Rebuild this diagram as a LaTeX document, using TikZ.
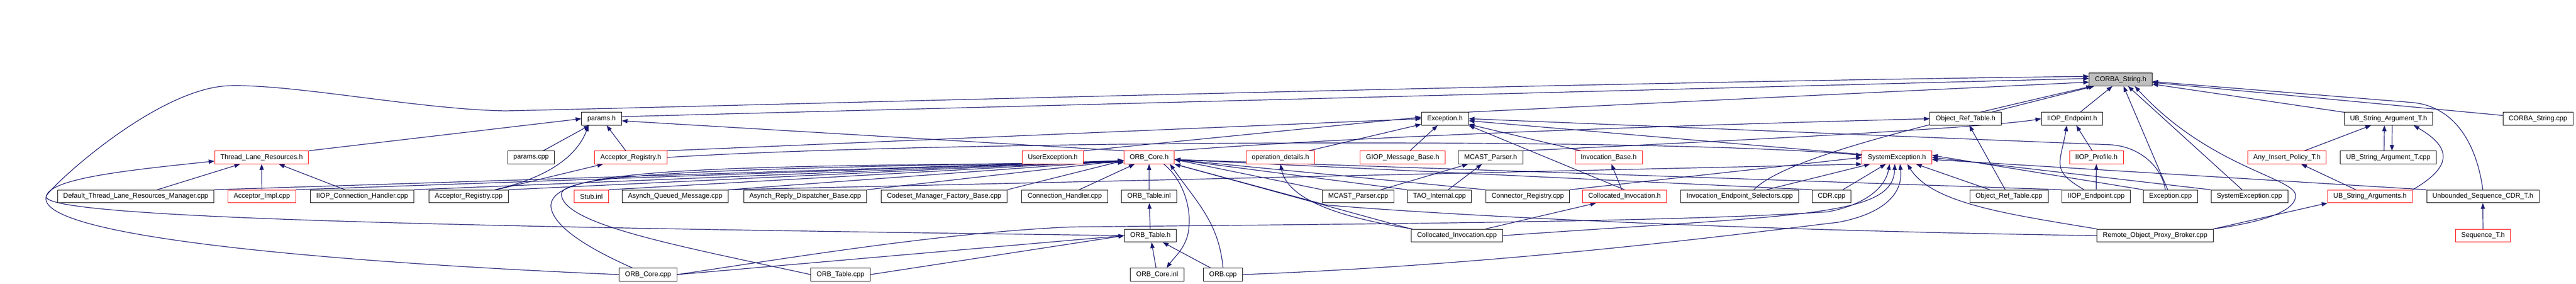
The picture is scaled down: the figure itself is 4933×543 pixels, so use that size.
\documentclass[tikz,border=0pt]{standalone}
\usepackage{fontspec}
\setmainfont{Liberation Sans}
\usepackage{tikz}
\usetikzlibrary{
	arrows.meta,
	backgrounds,
	positioning,
}
\definecolor{edgeblue}{HTML}{191970}
\definecolor{rootgray}{HTML}{BFBFBF}
\tikzset{file node/.style={
	draw,
	rectangle,
	fill=white,
	inner xsep=11pt,
	inner ysep=0pt,
	minimum height=24.5pt,
	line width=1pt,
	font=\fontsize{13}{15}\selectfont,
}}
\tikzset{red node/.style={file node, draw=red}}
\tikzset{root node/.style={file node, fill=rootgray}}
\tikzset{incl/.style={-{Triangle[length=11pt,width=8pt]}, edgeblue, line width=1.2pt}}

\begin{document}
\begin{tikzpicture}[x=1pt,y=-1pt]
\useasboundingbox (0,0) rectangle (4933,543);

\node(cs)[root node] at (4061,152) {CORBA\_String.h};

\node(paramsh)[file node] at (1152,227) {params.h};
\node(exch)[file node] at (2767,227) {Exception.h};
\node(ortblh)[file node] at (3764,227) {Object\_Ref\_Table.h};
\node(iiopeph)[file node] at (3968,227) {IIOP\_Endpoint.h};
\node(ubsath)[file node] at (4574,227) {UB\_String\_Argument\_T.h};
\node(cscpp)[file node] at (4860,227) {CORBA\_String.cpp};

\node(tlrh)[red node] at (501,301) {Thread\_Lane\_Resources.h};
\node(paramscpp)[file node] at (1017,301) {params.cpp};
\node(accregh)[red node] at (1208,301) {Acceptor\_Registry.h};
\node(userexh)[red node] at (2016,301) {UserException.h};
\node(orbcoreh)[red node] at (2200.5,301) {ORB\_Core.h};
\node(opdeth)[red node] at (2452,301) {operation\_details.h};
\node(giopmbh)[red node] at (2686,301) {GIOP\_Message\_Base.h};
\node(mcastph)[file node] at (2854.5,301) {MCAST\_Parser.h};
\node(invbaseh)[red node] at (3080.5,301) {Invocation\_Base.h};
\node(sysexh)[red node] at (3632.5,301) {SystemException.h};
\node(iiopprofh)[red node] at (4014.5,301) {IIOP\_Profile.h};
\node(anyinsh)[red node] at (4379.5,301) {Any\_Insert\_Policy\_T.h};
\node(ubsatcpp)[file node] at (4573.5,301) {UB\_String\_Argument\_T.cpp};

\node(dtlrm)[file node] at (260,375.5) {Default\_Thread\_Lane\_Resources\_Manager.cpp};
\node(accimpl)[red node] at (501.5,375.5) {Acceptor\_Impl.cpp};
\node(iiopch)[file node] at (693.5,375.5) {IIOP\_Connection\_Handler.cpp};
\node(accregcpp)[file node] at (897.5,375.5) {Acceptor\_Registry.cpp};
\node(stubinl)[red node] at (1132.5,375.5) {Stub.inl};
\node(aqm)[file node] at (1293,375.5) {Asynch\_Queued\_Message.cpp};
\node(ardb)[file node] at (1542,375.5) {Asynch\_Reply\_Dispatcher\_Base.cpp};
\node(cmfb)[file node] at (1808,375.5) {Codeset\_Manager\_Factory\_Base.cpp};
\node(chcpp)[file node] at (2039,375.5) {Connection\_Handler.cpp};
\node(orbtblinl)[file node] at (2200.5,375.5) {ORB\_Table.inl};
\node(mcastpcpp)[file node] at (2601,375.5) {MCAST\_Parser.cpp};
\node(taoint)[file node] at (2756.5,375.5) {TAO\_Internal.cpp};
\node(connreg)[file node] at (2925.5,375.5) {Connector\_Registry.cpp};
\node(collinvh)[red node] at (3111,375.5) {Collocated\_Invocation.h};
\node(ies)[file node] at (3331.5,375.5) {Invocation\_Endpoint\_Selectors.cpp};
\node(cdrcpp)[file node] at (3507.5,375.5) {CDR.cpp};
\node(ortblcpp)[file node] at (3847,375.5) {Object\_Ref\_Table.cpp};
\node(iiopepcpp)[file node] at (4014,375.5) {IIOP\_Endpoint.cpp};
\node(exccpp)[file node] at (4156.5,375.5) {Exception.cpp};
\node(sysexcpp)[file node] at (4307.5,375.5) {SystemException.cpp};
\node(ubsas)[red node] at (4538.5,375.5) {UB\_String\_Arguments.h};
\node(useqcdr)[file node] at (4754.5,375.5) {Unbounded\_Sequence\_CDR\_T.h};

\node(orbtblh)[file node] at (2203,450.5) {ORB\_Table.h};
\node(collinvcpp)[file node] at (2790,450.5) {Collocated\_Invocation.cpp};
\node(ropb)[file node] at (4127,450.5) {Remote\_Object\_Proxy\_Broker.cpp};
\node(seqth)[red node] at (4755,450.5) {Sequence\_T.h};

\node(orbcorecpp)[file node] at (1241,525) {ORB\_Core.cpp};
\node(orbtblcpp)[file node] at (1609.5,525) {ORB\_Table.cpp};
\node(orbcoreinl)[file node] at (2216,525) {ORB\_Core.inl};
\node(orbcpp)[file node] at (2342,525) {ORB.cpp};

\begin{scope}[on background layer]
% CORBA_String.h
\draw[incl] ([yshift=4pt]paramsh.east) -- ([yshift=2pt]cs.west);
\draw[incl] (exch.north east) -- ([yshift=-5pt]cs.west);
\foreach \n in {ortblh,iiopeph,exccpp,sysexcpp,ubsath,cscpp}
\draw[incl] (\n) -- (cs);
\draw[incl] ([xshift=27pt]ies.north) .. controls (3420,300) and (3700,235) .. ([xshift=-55pt]cs.south);
\coordinate (ropbbend) at (4396,374);
\draw[incl] (ropb.north east) .. controls (4330,425) and (4396,405) .. (ropbbend)
	.. controls (4396,340) and (4230,320) .. ([xshift=27pt]cs.south);
\coordinate (useqbend) at (4620,196);
\draw[incl] (useqcdr.north) .. controls (4745,290) and (4710,205) .. (useqbend) -- ([yshift=-4pt]cs.east);
\coordinate (loopw) at (89,374);
\coordinate (looptop) at (437,164);
\coordinate (loopdip) at (968,212);
\draw[incl] (orbtblh.west) .. controls (1000,435) and (60,420) .. (loopw)
	.. controls (104,350) and (300,170) .. (looptop)
	.. controls (560,160) and (800,209) .. (loopdip)
	.. controls (1500,200) and (3000,158) .. ([yshift=6pt]cs.west);

% Exception.h
\foreach \n in {opdeth,giopmbh,sysexh,invbaseh}
\draw[incl] (\n) -- (exch);
\draw[incl] (userexh.north east) -- ([yshift=3pt]exch.west);
\draw[incl] (accregh.north east) -- (exch.west);
\draw[incl] (collinvh.north) -- (exch.south east);
\coordinate (excbend) at (4045,277);
\draw[incl] ([xshift=-10pt]exccpp.north) .. controls (4140,320) and (4100,282) .. (excbend) -- (exch.east);

% SystemException.h
\foreach \n in {ies,cdrcpp,ortblcpp}
\draw[incl] (\n) -- (sysexh);
\draw[incl] (connreg.north east) -- (sysexh.west);
\draw[incl] (accregh.east) .. controls (1800,268) and (3200,262) .. ([yshift=4pt]sysexh.west);
\draw[incl] (aqm.north east) -- (sysexh.south west);
\draw[incl] (exccpp.north west) -- ([yshift=4pt]sysexh.east);
\draw[incl] (sysexcpp.north west) -- (sysexh.east);
\draw[incl] (useqcdr.north west) -- ([yshift=-4pt]sysexh.east);
\draw[incl] (ropb.north west) .. controls (3850,410) and (3700,390) .. ([xshift=20pt]sysexh.south);
\draw[incl] (collinvcpp.east) .. controls (3450,410) and (3625,415) .. ([xshift=-4pt]sysexh.south);
\coordinate (ocsysa) at (2050,434);
\coordinate (ocsysb) at (3500,405);
\draw[incl] (orbcorecpp.east) .. controls (1500,495) and (1800,445) .. (ocsysa)
	.. controls (2600,428) and (3200,425) .. (ocsysb)
	.. controls (3570,392) and (3610,360) .. ([xshift=-14pt]sysexh.south);
\coordinate (orbsysbend) at (3520,425);
\draw[incl] (orbcpp.east) .. controls (2900,505) and (3350,445) .. (orbsysbend)
	.. controls (3600,410) and (3645,375) .. ([xshift=6pt]sysexh.south);

% ORB_Core.h
\foreach \n in {dtlrm,accimpl,iiopch,accregcpp,stubinl,aqm,ardb,cmfb}
\draw[incl] (\n.north east) -- ([yshift=-6pt]orbcoreh.west);
\draw[incl] (chcpp) -- (orbcoreh);
\draw[incl] (orbtblinl) -- (orbcoreh);
\foreach \n in {mcastpcpp,taoint,connreg,cdrcpp,iiopepcpp}
\draw[incl] (\n.north west) -- ([yshift=-4pt]orbcoreh.east);
\draw[incl] (collinvcpp.north west) -- (orbcoreh.south east);
\coordinate (ropbend) at (2540,392);
\draw[incl] (ropb.west) .. controls (3300,440) and (2750,410) .. (ropbend) -- (orbcoreh.south east);
\draw[incl] (orbcpp.north) to[out=95,in=-55] ([xshift=40pt]orbcoreh.south);
\coordinate (ocbend) at (1055,395);
\draw[incl] ([xshift=-30pt]orbcorecpp.north) .. controls (1150,485) and (1060,440) .. (ocbend)
	.. controls (1052,320) and (1350,318) .. ([yshift=-10pt]orbcoreh.west);
\coordinate (otbend) at (1075,372);
\draw[incl] (orbtblcpp.west) .. controls (1300,470) and (1080,430) .. (otbend)
	.. controls (1073,330) and (1400,322) .. ([yshift=-8pt]orbcoreh.west);
\draw[incl] (orbcoreh.north west) -- ([yshift=-4pt]paramsh.east);
\draw[incl] (orbcoreh.north east) .. controls (2500,268) and (3000,245) .. (ortblh.west);
\coordinate (oinlbend) at (2277,430);
\draw[incl] ([xshift=28pt]orbcoreh.south) .. controls (2262,340) and (2280,390) .. (oinlbend)
	.. controls (2276,470) and (2250,490) .. ([xshift=18pt]orbcoreinl.north);

% ORB_Table.h
\foreach \n in {orbcoreinl,orbcpp}
\draw[incl] (\n) -- (orbtblh);
\draw[incl] (orbcorecpp.east) -- (orbtblh.west);
\draw[incl] (orbtblcpp.east) -- (orbtblh.west);
\draw[incl] (orbtblh) -- (orbtblinl);

% Thread_Lane_Resources.h and params.h
\foreach \n in {dtlrm,accimpl,iiopch}
\draw[incl] (\n) -- (tlrh);
\draw[incl] (orbcorecpp.west) .. controls (600,500) and (60,450) .. (loopw)
	.. controls (100,340) and (250,325) .. ([yshift=-7pt]tlrh.west);
\draw[incl] (tlrh.north east) -- (paramsh.west);
\foreach \n in {paramscpp,accregh}
\draw[incl] (\n) -- (paramsh);
\draw[incl] ([xshift=50pt]accregcpp.north) .. controls (1070,335) and (1110,285) .. ([xshift=-25pt]paramsh.south);
\draw[incl] (accregcpp) -- (accregh);

% invocation and parser
\draw[incl] (collinvh) -- (invbaseh);
\draw[incl] (collinvcpp) -- (collinvh);
\draw[incl] ([xshift=-85pt]collinvcpp.north) .. controls (2560,415) and (2465,380) .. (opdeth.south);
\foreach \n in {mcastpcpp,taoint}
\draw[incl] (\n) -- (mcastph);
\draw[incl] (mcastph.north east) .. controls (3300,270) and (3800,245) .. (iiopeph.west);

% Object_Ref_Table and IIOP
\draw[incl] (ortblcpp) -- (ortblh);
\draw[incl] (iiopepcpp) -- (iiopprofh);
\draw[incl] (iiopprofh) -- (iiopeph);
\draw[incl] ([xshift=-23pt]iiopepcpp.north) to[out=150,in=-100,looseness=1.5] ([xshift=-10pt]iiopeph.south);

% string arguments and sequences
\draw[incl] (anyinsh) -- (ubsath);
\draw[incl] ([xshift=-8pt]ubsatcpp.north) -- ([xshift=-8pt]ubsath.south);
\draw[incl] ([xshift=7pt]ubsath.south) -- ([xshift=7pt]ubsatcpp.north);
\draw[incl] (ubsas) -- (anyinsh);
\draw[incl] (ubsas.north east) to[out=30,in=-30,looseness=1.8] ([xshift=48pt]ubsath.south);
\draw[incl] (ropb.north east) -- (ubsas.south west);
\draw[incl] (seqth) -- (useqcdr);
\end{scope}

\end{tikzpicture}
\end{document}
